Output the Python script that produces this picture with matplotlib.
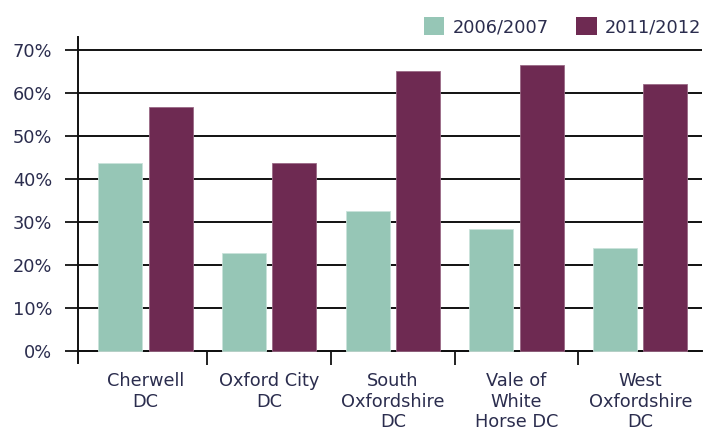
import matplotlib
matplotlib.use("Agg")
import matplotlib.pyplot as plt
from matplotlib.patches import Patch
import numpy as np

categories = ["Cherwell\nDC", "Oxford City\nDC", "South\nOxfordshire\nDC",
              "Vale of\nWhite\nHorse DC", "West\nOxfordshire\nDC"]
series_names = ["2006/2007", "2011/2012"]
values_2006 = [43.6, 22.7, 32.5, 28.3, 24.0]
values_2011 = [56.7, 43.6, 65.1, 66.5, 62.2]
yticks = [0, 10, 20, 30, 40, 50, 60, 70]
ytick_labels = ["0%", "10%", "20%", "30%", "40%", "50%", "60%", "70%"]

green = "#96c6b6"
purple = "#6e2a52"
text_color = "#2b2d4e"

plt.rcParams['font.family'] = ['DejaVu Sans']
fs = 12.8

fig = plt.figure(figsize=(7.06, 4.34), dpi=100)
ax = fig.add_axes([0.1105, 0.1636, 0.884, 0.751])

x = np.arange(len(categories))
w = 0.355
off = 0.203
ax.bar(x - off, values_2006, width=w, color=green, edgecolor="#c9e3da", linewidth=0.6, zorder=3)
ax.bar(x + off, values_2011, width=w, color=purple, edgecolor="#9a6a86", linewidth=0.6, zorder=3)

ax.set_xlim(-0.545, 4.5)
ax.set_ylim(-2.8, 73)

ax.set_yticks(yticks)
ax.set_yticklabels(ytick_labels)
ax.yaxis.grid(True, color="#111111", linewidth=1.4)
ax.set_axisbelow(True)
ax.tick_params(axis='y', direction='out', length=9.5, width=1.3, color="#111111",
               labelsize=fs, labelcolor=text_color, pad=9)

ax.set_xticks(x)
ax.set_xticklabels(categories, linespacing=1.25)
ax.set_xticks(np.arange(0.5, 4.0, 1.0), minor=True)
ax.tick_params(axis='x', which='major', length=0, labelsize=fs, labelcolor=text_color, pad=15)
ax.tick_params(axis='x', which='minor', direction='out', length=10, width=1.3, color="#111111")

for s in ['top', 'right']:
    ax.spines[s].set_visible(False)
ax.spines['bottom'].set_position(('data', 0))
ax.spines['bottom'].set_color("#111111")
ax.spines['bottom'].set_linewidth(1.4)
ax.spines['left'].set_color("#111111")
ax.spines['left'].set_linewidth(1.4)

handles = [Patch(facecolor=green, edgecolor='none'), Patch(facecolor=purple, edgecolor='none')]
fig.legend(handles, series_names, loc='upper right', bbox_to_anchor=(1.013, 0.993),
           ncol=2, frameon=False, fontsize=fs, handlelength=1.15, handleheight=1.15,
           handletextpad=0.45, columnspacing=1.55, borderpad=0.3, labelcolor=text_color)

fig.savefig("out.png", dpi=100)
